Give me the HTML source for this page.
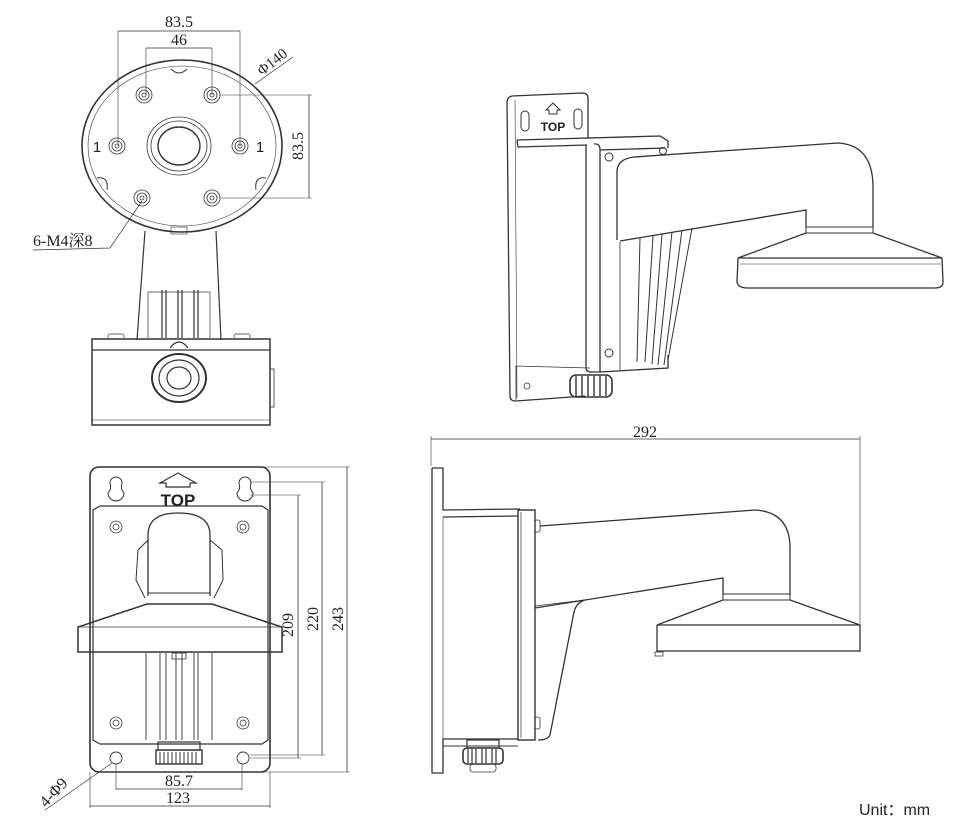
<!DOCTYPE html>
<html><head><meta charset="utf-8"><style>
html,body{margin:0;padding:0;background:#fff;}
svg{display:block;}
text{fill:#222;}
.s{font-family:"Liberation Serif","Noto Serif CJK SC",serif;}
.a{font-family:"Liberation Sans","Noto Sans CJK SC",sans-serif;}
</style></head><body>
<svg width="960" height="824" viewBox="0 0 960 824" xmlns="http://www.w3.org/2000/svg" fill="none" stroke="#333" stroke-width="1">
<!-- ============ TOP LEFT VIEW ============ -->
<g>
 <line x1="118" y1="31" x2="240" y2="31" stroke-width="0.8"/>
 <line x1="118" y1="31" x2="118" y2="146" stroke-width="0.6"/>
 <line x1="240" y1="31" x2="240" y2="146" stroke-width="0.6"/>
 <text class="s" x="179" y="27" font-size="16" text-anchor="middle" stroke="none">83.5</text>
 <line x1="146" y1="48" x2="212" y2="48" stroke-width="0.8"/>
 <line x1="146" y1="48" x2="146" y2="95" stroke-width="0.6"/>
 <line x1="212" y1="48" x2="212" y2="95" stroke-width="0.6"/>
 <text class="s" x="179" y="45" font-size="16" text-anchor="middle" stroke="none">46</text>
 <line x1="255" y1="84" x2="293" y2="57" stroke-width="0.7"/>
 <text class="s" transform="translate(262,76) rotate(-38)" font-size="15" stroke="none">Φ140</text>
 <line x1="220" y1="95" x2="312" y2="95" stroke-width="0.6"/>
 <line x1="220" y1="198" x2="312" y2="198" stroke-width="0.6"/>
 <line x1="309" y1="95" x2="309" y2="198" stroke-width="0.8"/>
 <text class="s" transform="translate(303,146) rotate(-90)" font-size="16" text-anchor="middle" stroke="none">83.5</text>
 <ellipse cx="182" cy="146" rx="100" ry="86" stroke-width="1.6"/>
 <ellipse cx="182" cy="146" rx="94" ry="80" stroke-width="0.6"/>
 <path d="M171 69 q8 8 16 0" />
 <path d="M97 178 q12 -2 10 12"/><path d="M266 178 q-12 -2 -10 12"/>
 <g stroke-width="0.8">
  <circle cx="144" cy="95" r="8"/><circle cx="144" cy="95" r="5"/><circle cx="144" cy="95" r="2"/>
  <circle cx="212" cy="95" r="8"/><circle cx="212" cy="95" r="5"/><circle cx="212" cy="95" r="2"/>
  <circle cx="117" cy="146" r="8"/><circle cx="117" cy="146" r="5"/><circle cx="117" cy="146" r="2"/>
  <circle cx="240" cy="146" r="8"/><circle cx="240" cy="146" r="5"/><circle cx="240" cy="146" r="2"/>
  <circle cx="142" cy="198" r="8"/><circle cx="142" cy="198" r="5"/><circle cx="142" cy="198" r="2"/>
  <circle cx="212" cy="198" r="8"/><circle cx="212" cy="198" r="5"/><circle cx="212" cy="198" r="2"/>
 </g>
 <ellipse cx="179" cy="146" rx="32" ry="29" stroke-width="0.8"/>
 <ellipse cx="179" cy="146" rx="28" ry="25" stroke-width="0.8"/>
 <ellipse cx="179" cy="146" rx="21" ry="19" stroke-width="1.4"/>
 <text class="a" x="97" y="152" font-size="15" stroke="none" text-anchor="middle">1</text>
 <text class="a" x="260" y="152" font-size="15" stroke="none" text-anchor="middle">1</text>
 <polyline points="142,201 110,248 33,250" stroke-width="0.7"/>
 <text class="s" x="33" y="246" font-size="16" stroke="none">6-M4深8</text>
 <rect x="171" y="227" width="16" height="7" stroke-width="0.6"/>
 <path d="M145 231 L137 340 M216 231 L221 340" stroke-width="1.2"/>
 <path d="M148 292 L148 338 M210 292 L210 338 M148 292 L210 292" stroke-width="0.7"/>
 <path d="M162 290 l0 48 M166 290 l0 48 M178 290 l0 48 M182 290 l0 48 M194 290 l0 48 M198 290 l0 48" stroke-width="1.2"/>
 <path d="M170 348 q9 -12 18 0" stroke-width="1.2"/>
 <rect x="108" y="334" width="16" height="5" rx="2" stroke-width="0.7"/>
 <rect x="234" y="334" width="16" height="5" rx="2" stroke-width="0.7"/>
 <rect x="92" y="339" width="178" height="86" stroke-width="1.5"/>
 <line x1="92" y1="350" x2="270" y2="350" stroke-width="1.2"/>
 <line x1="92" y1="420" x2="270" y2="420" stroke-width="0.6"/>
 <rect x="270" y="369" width="4" height="38" stroke-width="0.8"/>
 <ellipse cx="179" cy="378" rx="27" ry="24" stroke-width="2"/>
 <ellipse cx="179" cy="378" rx="20" ry="18" stroke-width="1.2"/>
 <ellipse cx="179" cy="378" rx="12" ry="11" stroke-width="1.2"/>
</g>

<!-- ============ BOTTOM LEFT VIEW ============ -->
<g>
 <rect x="90" y="467" width="180" height="305" rx="9" stroke-width="1.6"/>
 <path d="M93 510 L100 506 L262 506 L268 510 L268 740 L262 744 L100 744 L93 740 Z" stroke-width="1.2"/>
 <path d="M110 483 a6 6 0 1 1 12 0 q-2 6 2 10 a8 8 0 1 1 -16 0 q4 -4 2 -10Z" stroke-width="1"/>
 <path d="M239 483 a6 6 0 1 1 12 0 q-2 6 2 10 a8 8 0 1 1 -16 0 q4 -4 2 -10Z" stroke-width="1"/>
 <path d="M160 483 L178 473 L196 483 L190 483 L190 487 L166 487 L166 483 Z" stroke-width="1.2"/>
 <text class="a" x="178" y="506" font-size="17" font-weight="bold" text-anchor="middle" stroke="none">TOP</text>
 <g stroke-width="0.8">
  <circle cx="116" cy="527" r="6"/><circle cx="116" cy="527" r="3"/>
  <circle cx="243" cy="527" r="6"/><circle cx="243" cy="527" r="3"/>
  <circle cx="116" cy="723" r="6"/><circle cx="116" cy="723" r="3"/>
  <circle cx="243" cy="723" r="6"/><circle cx="243" cy="723" r="3"/>
 </g>
 <path d="M148 596 L148 535 Q148 513 178 513 Q210 513 210 535 L210 596" stroke-width="1.3"/>
 <path d="M148 540 L138 550 L136 580 L145 598 M210 540 L222 550 L223 580 L214 598" stroke-width="1"/>
 <line x1="148" y1="593" x2="210" y2="593" stroke-width="1"/>
 <path d="M147 604 L212 604 L282 627 L282 652 L78 652 L78 627 Z" stroke-width="1.5"/>
 <line x1="78" y1="627" x2="282" y2="627" stroke-width="0.8"/>
 <path d="M146 653 L146 740 M212 653 L212 740 M160 653 L160 740 M166 653 L166 740 M176 653 L176 740 M182 653 L182 740 M194 653 L194 740 M198 653 L198 740" stroke-width="0.9"/>
 <rect x="172" y="653" width="14" height="6" stroke-width="0.8"/>
 <rect x="158" y="742" width="42" height="8" stroke-width="1.2"/>
 <rect x="156" y="750" width="46" height="14" stroke-width="1.4"/>
 <path d="M160 752 v12 M164 752 v12 M168 752 v12 M172 752 v12 M176 752 v12 M180 752 v12 M184 752 v12 M188 752 v12 M192 752 v12 M196 752 v12" stroke-width="1"/>
 <circle cx="116" cy="758" r="6" stroke-width="0.9"/>
 <circle cx="243" cy="758" r="6" stroke-width="0.9"/>
 <line x1="116" y1="764" x2="116" y2="790" stroke-width="0.6"/>
 <line x1="242" y1="764" x2="242" y2="790" stroke-width="0.6"/>
 <line x1="116" y1="789" x2="242" y2="789" stroke-width="0.8"/>
 <text class="s" x="179" y="786" font-size="16" text-anchor="middle" stroke="none">85.7</text>
 <line x1="90" y1="772" x2="90" y2="808" stroke-width="0.6"/>
 <line x1="270" y1="772" x2="270" y2="808" stroke-width="0.6"/>
 <line x1="90" y1="806" x2="270" y2="806" stroke-width="0.8"/>
 <text class="s" x="178" y="803" font-size="16" text-anchor="middle" stroke="none">123</text>
 <line x1="112" y1="763" x2="45" y2="810" stroke-width="0.7"/>
 <text class="s" transform="translate(46,808) rotate(-47)" font-size="16" stroke="none">4-Φ9</text>
 <line x1="250" y1="495" x2="301" y2="495" stroke-width="0.6"/>
 <line x1="250" y1="758" x2="301" y2="758" stroke-width="0.6"/>
 <line x1="298" y1="495" x2="298" y2="758" stroke-width="0.8"/>
 <text class="s" transform="translate(293,625) rotate(-90)" font-size="16" text-anchor="middle" stroke="none">209</text>
 <line x1="250" y1="482" x2="325" y2="482" stroke-width="0.6"/>
 <line x1="250" y1="755" x2="325" y2="755" stroke-width="0.6"/>
 <line x1="322" y1="482" x2="322" y2="755" stroke-width="0.8"/>
 <text class="s" transform="translate(318,619) rotate(-90)" font-size="16" text-anchor="middle" stroke="none">220</text>
 <line x1="262" y1="467" x2="350" y2="467" stroke-width="0.6"/>
 <line x1="262" y1="772" x2="350" y2="772" stroke-width="0.6"/>
 <line x1="347" y1="467" x2="347" y2="772" stroke-width="0.8"/>
 <text class="s" transform="translate(343,619) rotate(-90)" font-size="16" text-anchor="middle" stroke="none">243</text>
</g>

<!-- ============ TOP RIGHT 3D VIEW ============ -->
<g stroke-width="1.3">
 <path d="M588 138 L588 98 Q588 93 582 93 L512 96 Q507 97 507 103 L510 396 Q510 401 516 401 L585 396"/>
 <line x1="515" y1="100" x2="517" y2="398" stroke-width="0.6"/>
 <path d="M521 115 a4 4 0 1 1 8 0 l0 12 a4 4 0 1 1 -8 0Z" stroke-width="1"/>
 <path d="M574 113 a4 4 0 1 1 8 0 l0 12 a4 4 0 1 1 -8 0Z" stroke-width="1"/>
 <path d="M546 110 L553 103 L560 110 L557 110 L557 114 L549 114 L549 110Z" stroke-width="1"/>
 <text class="a" x="553" y="131" font-size="12" font-weight="bold" text-anchor="middle" stroke="none">TOP</text>
 <path d="M517 140 L518 147 L587 145 M517 140 L660 136 L668 141 L668 148"/>
 <path d="M586 145 L586 368 Q586 372 592 372 L600 372 L600 150 Q600 143 594 144"/>
 <line x1="600" y1="150" x2="665" y2="148"/>
 <circle cx="609" cy="157" r="4" stroke-width="1"/>
 <circle cx="663" cy="151" r="3.5" stroke-width="1"/>
 <circle cx="609" cy="353" r="4" stroke-width="1"/>
 <path d="M600 372 L668 368 L668 355"/>
 <path d="M515 366 L590 368 M516 366 L516 400" stroke-width="0.8"/>
 <circle cx="527" cy="386" r="3" stroke-width="0.8"/>
 <path d="M617 240 L617 172 Q617 159 634 157 L838 143 Q872 145 873 185 L873 227"/>
 <path d="M620 241 L806 210 L806 227"/>
 <path d="M806 227 L873 227 L873 233 L806 233 Z" stroke-width="1"/>
 <path d="M806 233 L738 258 L942 258 L873 233"/>
 <path d="M738 258 L737 282 Q738 288 748 288 L935 288 Q943 288 943 282 L942 258"/>
 <line x1="740" y1="264" x2="941" y2="264" stroke-width="0.6"/>
 <path d="M640 238 L637 362 M653 236 L645 362 M662 234 L652 364 M672 232 L658 365 M682 230 L664 365 M692 228 L668 360" stroke-width="1"/>
 <path d="M620 242 L620 370" stroke-width="0.8"/>
 <rect x="570" y="375" width="42" height="22" rx="6" stroke-width="1.6"/>
 <path d="M576 376 v20 M582 376 v20 M588 376 v20 M594 376 v20 M600 376 v20 M606 376 v20" stroke-width="1.4"/>
</g>

<!-- ============ BOTTOM RIGHT SIDE VIEW ============ -->
<g stroke-width="1.3">
 <line x1="431" y1="439" x2="860" y2="439" stroke-width="0.8"/>
 <line x1="431" y1="436" x2="431" y2="466" stroke-width="0.6"/>
 <line x1="860" y1="436" x2="860" y2="652" stroke-width="0.6"/>
 <text class="s" x="645" y="437" font-size="16" text-anchor="middle" stroke="none">292</text>
 <path d="M432 468 L443 468 L443 510 L520 509 M443 517 L518 516 L443 517 Z"/>
 <path d="M432 468 L432 773 L443 773 L443 739 L518 739"/>
 <line x1="443" y1="517" x2="443" y2="739" stroke-width="0.6"/>
 <path d="M443 746 L518 746" stroke-width="1"/>
 <rect x="518" y="510" width="17" height="230" stroke-width="1.4"/>
 <line x1="521" y1="512" x2="521" y2="738" stroke-width="0.7"/>
 <rect x="535" y="520" width="5" height="12" rx="2" stroke-width="0.8"/>
 <rect x="535" y="717" width="5" height="12" rx="2" stroke-width="0.8"/>
 <path d="M540 526 L755 510 Q790 512 790 548 L790 595"/>
 <path d="M535 608 L723 578 L723 595"/>
 <path d="M535 606 L585 600" stroke-width="0.7"/>
 <path d="M723 594 L790 594 L790 600 L723 600 Z" stroke-width="1"/>
 <path d="M723 600 L657 625 L860 625 L790 600"/>
 <path d="M657 625 L657 651 L860 651 L860 625"/>
 <rect x="655" y="652" width="8" height="4" stroke-width="0.8"/>
 <path d="M585 600 Q576 603 574 612 L550 735 Q548 740 538 740" />
 <rect x="467" y="740" width="32" height="8" stroke-width="1.2"/>
 <rect x="463" y="748" width="40" height="16" rx="4" stroke-width="1.6"/>
 <path d="M468 749 v14 M472 749 v14 M476 749 v14 M482 749 v14 M486 749 v14 M492 749 v14 M496 749 v14" stroke-width="1.2"/>
 <rect x="470" y="764" width="26" height="8" rx="3" stroke-width="0.8"/>
</g>

<text class="a" x="859" y="815" font-size="16" stroke="none" fill="#111">Unit：mm</text>
</svg>
</body></html>
